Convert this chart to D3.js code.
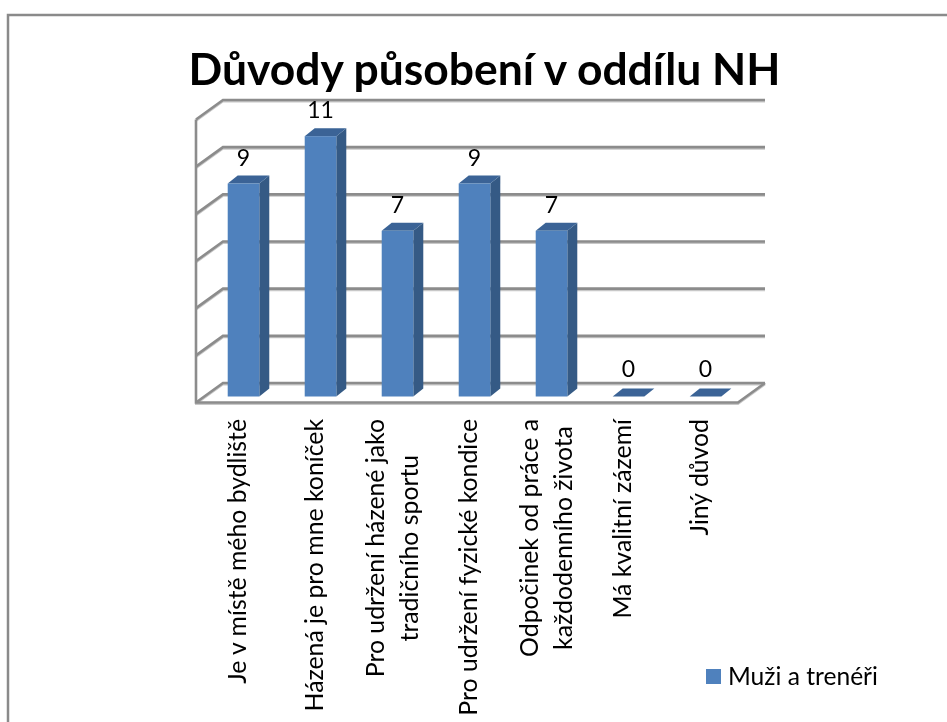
<!DOCTYPE html>
<html><head><meta charset="utf-8">
<script src="https://cdnjs.cloudflare.com/ajax/libs/d3/7.8.5/d3.min.js"></script>
<style>html,body{margin:0;padding:0;background:#fff}svg{display:block}text{font-family:Lato,"Noto Sans",sans-serif;fill:#000}</style>
</head><body><svg id="c" width="947" height="722"></svg>
<script>
const chartTitle = "Důvody působení v oddílu NH";
const categories = [
  ["Je v místě mého bydliště"],
  ["Házená je pro mne koníček"],
  ["Pro udržení házené jako","tradičního sportu"],
  ["Pro udržení fyzické kondice"],
  ["Odpočinek od práce a","každodenního života"],
  ["Má kvalitní zázemí"],
  ["Jiný důvod"]
];
const values = [9,11,7,9,7,0,0];
const gridValues = [0,2,4,6,8,10,12];
const legendLabel = "Muži a trenéři";

const svg = d3.select("#c");
const defs = svg.append("defs");
defs.append("filter").attr("id","soft").append("feGaussianBlur").attr("stdDeviation",0.35);
const root = svg.append("g").attr("filter","url(#soft)");

const depthX = 27, depthY = -19.5, barDX = 10, barDY = -8;
const y = d3.scaleLinear().domain([0,12]).range([402.5,119.5]);
const x = d3.scaleBand().domain(d3.range(categories.length)).range([205,744]).paddingInner(0.59).paddingOuter(0.295);
const barY = d3.scaleLinear().domain([0,12]).range([396.5,112.5]);

// frame (no right edge in the crop)
root.append("path").attr("d","M8,722V15H947").attr("fill","none").attr("stroke","#8a8a8a").attr("stroke-width",2.5);

// title
root.append("text").attr("x",484.5).attr("y",85).attr("text-anchor","middle")
  .attr("font-size",44.4).attr("font-weight",700).text(chartTitle);

// walls
const wallPath = v => `M196,${y(v)}L${196+depthX},${y(v)+depthY}H765`;
const shadow = root.append("g").attr("fill","none").attr("stroke","#c8c8c8").attr("stroke-width",2).attr("transform","translate(0,1.5)");
const grid = root.append("g").attr("fill","none").attr("stroke","#8c8c8c").attr("stroke-width",2.6);
gridValues.forEach(v=>{
  shadow.append("path").attr("d",wallPath(v));
  grid.append("path").attr("d",wallPath(v));
});
const framePath = `M196,${y(12)}V${y(0)}H738L765,${y(0)+depthY}`;
shadow.append("path").attr("d",framePath);
grid.append("path").attr("d",framePath);

// bars
const bars = root.append("g").selectAll("g").data(values).join("g");
const w = x.bandwidth();
bars.append("path").attr("fill","#355a85").attr("d",(d,i)=>{
  const X=x(i)+w, t=barY(d), b=barY(0);
  return `M${X},${t}l${barDX},${barDY}V${b+barDY}L${X},${b}Z`;});
bars.append("path").attr("fill","#3a6496").attr("d",(d,i)=>{
  const X=x(i), t=barY(d);
  return `M${X},${t}l${barDX},${barDY}h${w}l${-barDX},${-barDY}Z`;});
bars.append("rect").attr("fill","#4f81bd").attr("x",(d,i)=>x(i)).attr("y",d=>barY(d)).attr("width",w).attr("height",d=>barY(0)-barY(d));
bars.append("text").attr("x",(d,i)=>x(i)+w/2).attr("y",d=>barY(d)-18-(d===0?2:0))
  .attr("text-anchor","middle").attr("font-size",23).text(d=>d);

// category labels: top-aligned block, lines centred on the longest line
const labels = root.append("g").selectAll("g").data(categories).join("g")
  .attr("transform",(d,i)=>`translate(${x(i)+w/2},419) rotate(-90)`);
labels.each(function(lines){
  const g=d3.select(this);
  const nodes = lines.map((t,k)=>g.append("text")
     .attr("y",lines.length===1?2:(k===0?-13.5:20))
     .attr("font-size",24.8).attr("text-anchor","middle").text(t));
  const longest = d3.max(nodes,n=>n.node().getComputedTextLength());
  nodes.forEach(n=>n.attr("x",-longest/2));
});

// legend
root.append("rect").attr("x",706).attr("y",669).attr("width",15).attr("height",15).attr("fill","#4f81bd");
root.append("text").attr("x",728).attr("y",685).attr("font-size",24.6).text(legendLabel);
</script></body></html>
